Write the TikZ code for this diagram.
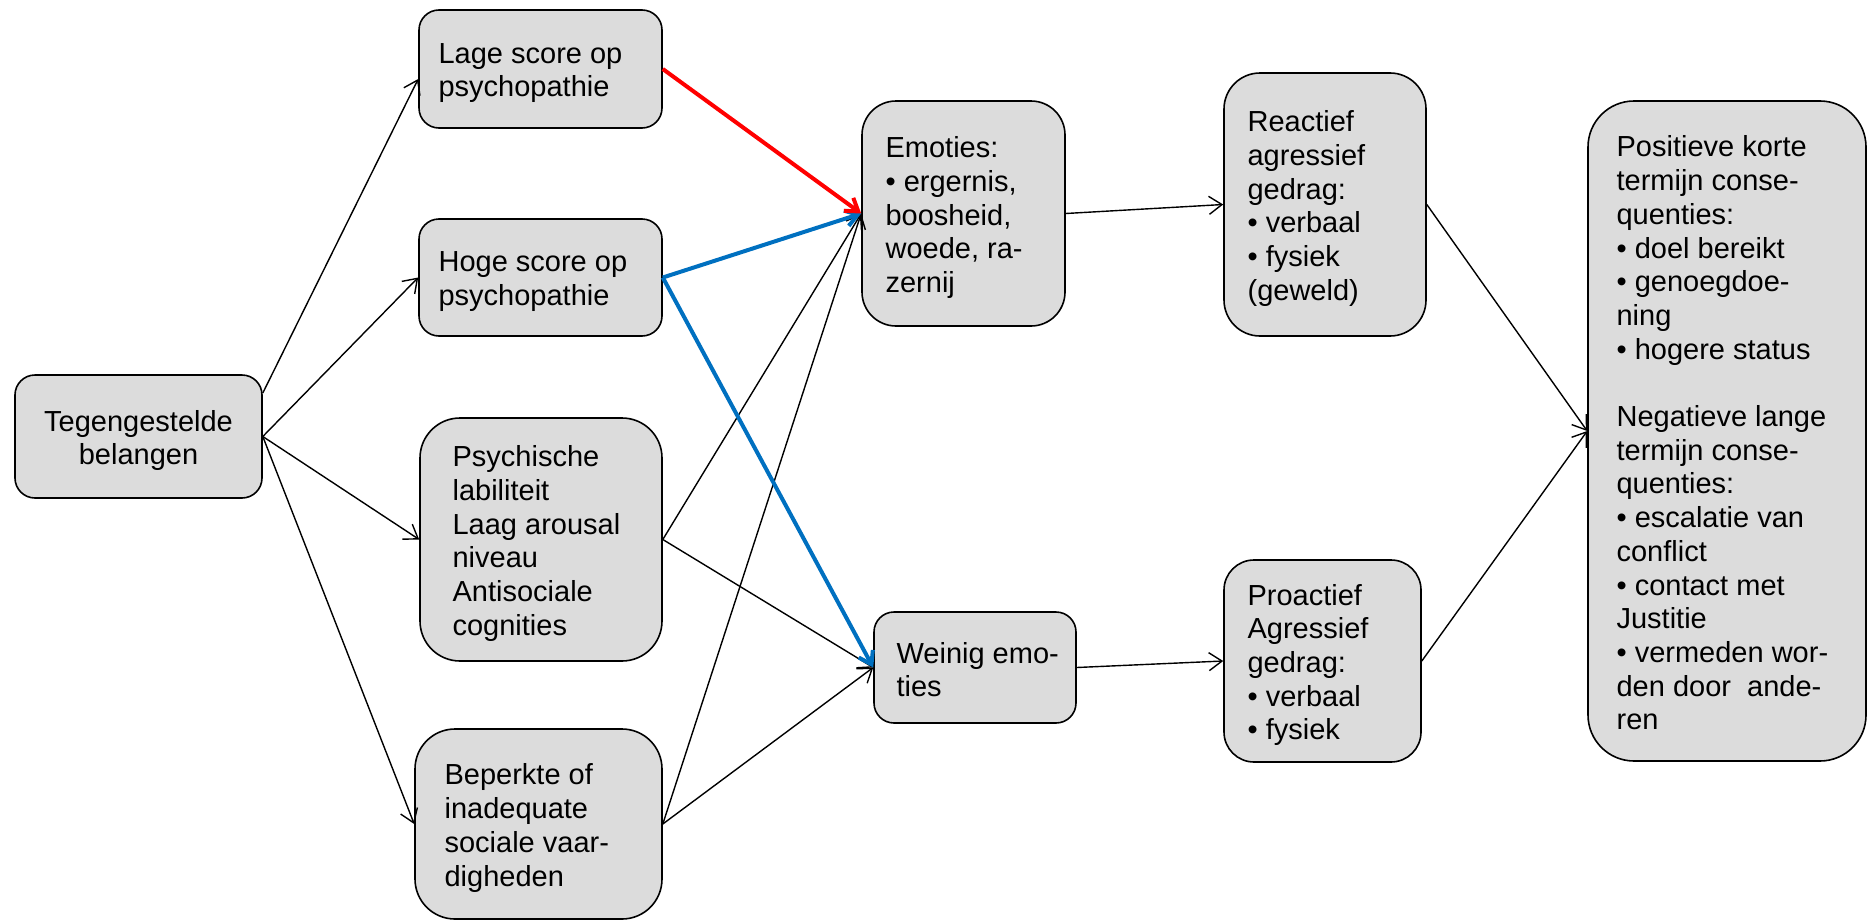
\documentclass[tikz,border=0pt]{standalone}
\usepackage{fontspec}
\setmainfont{Liberation Sans}
\usetikzlibrary{arrows.meta}
\definecolor{boxgray}{RGB}{220,220,220}
\definecolor{arrblue}{RGB}{0,112,192}
\definecolor{arrred}{RGB}{255,0,0}
\begin{document}
\begin{tikzpicture}[x=0.5pt,y=-0.5pt,
  box/.style={draw=black, line width=0.8pt, fill=boxgray, inner sep=0pt},
  txt/.style={inner sep=0pt, align=left, anchor=west, font=\fontsize{14.5pt}{16.85pt}\selectfont},
  arr/.style={draw=black, line width=0.7pt, -{Straight Barb[length=6.5pt,width=9pt]}},
  carr/.style={line width=2pt, -{Straight Barb[length=6pt,width=8pt]}}]
\useasboundingbox (0,0) rectangle (1868,921);
% boxes
\node[box, rounded corners=10pt, minimum width=123.5pt, minimum height=61.5pt] (teg) at (138.5,436.5) {};
\node[box, rounded corners=10pt, minimum width=121.5pt, minimum height=59pt] (lage) at (540.5,69) {};
\node[box, rounded corners=10pt, minimum width=121.5pt, minimum height=58.5pt] (hoge) at (540.5,277.5) {};
\node[box, rounded corners=20pt, minimum width=121pt, minimum height=121.5pt] (psych) at (541,539.5) {};
\node[box, rounded corners=20pt, minimum width=123.5pt, minimum height=95pt] (beperk) at (538.5,824) {};
\node[box, rounded corners=17pt, minimum width=101.5pt, minimum height=112.5pt] (emo) at (963.5,213.5) {};
\node[box, rounded corners=10pt, minimum width=101pt, minimum height=55.5pt] (weinig) at (975,667.5) {};
\node[box, rounded corners=18pt, minimum width=101pt, minimum height=131.5pt] (react) at (1325,204.5) {};
\node[box, rounded corners=15pt, minimum width=98.5pt, minimum height=101pt] (proact) at (1322.5,661) {};
\node[box, rounded corners=23pt, minimum width=139pt, minimum height=330pt] (pos) at (1727,431) {};
% texts
\node[txt, anchor=center, align=center] (tegT) at ([yshift=-2pt]teg.center) {Tegengestelde\\belangen};
\node[txt] (lageT) at ([xshift=10pt,yshift=-2pt]lage.west) {Lage score op\\psychopathie};
\node[txt] (hogeT) at ([xshift=10pt,yshift=-2pt]hoge.west) {Hoge score op\\psychopathie};
\node[txt] (psychT) at ([xshift=16.5pt,yshift=-2pt]psych.west) {Psychische\\labiliteit\\Laag arousal\\niveau\\Antisociale\\cognities};
\node[txt] (beperkT) at ([xshift=15pt,yshift=-2pt]beperk.west) {Beperkte of\\inadequate\\sociale vaar-\\digheden};
\node[txt] (emoT) at ([xshift=12pt,yshift=-2pt]emo.west) {Emoties:\\• ergernis,\\boosheid,\\woede, ra-\\zernij};
\node[txt] (weinigT) at ([xshift=11.5pt,yshift=-1pt]weinig.west) {Weinig emo-\\ties};
\node[txt] (reactT) at ([xshift=12pt,yshift=-2pt]react.west) {Reactief\\agressief\\gedrag:\\• verbaal\\• fysiek\\(geweld)};
\node[txt] (proactT) at ([xshift=12pt,yshift=-2pt]proact.west) {Proactief\\Agressief\\gedrag:\\• verbaal\\• fysiek};
\node[txt] (posT) at ([xshift=14.5pt,yshift=-1pt]pos.west) {Positieve korte\\termijn conse-\\quenties:\\• doel bereikt\\• genoegdoe-\\ning\\• hogere status\\[16.85pt]Negatieve lange\\termijn conse-\\quenties:\\• escalatie van\\conflict\\• contact met\\Justitie\\• vermeden wor-\\den door~~ande-\\ren};
% black connectors
\draw[arr] ([yshift=21.75pt]teg.east) -- ([yshift=-5pt]lage.west);
\draw[arr] (teg.east) -- (hoge.west);
\draw[arr] (teg.east) -- (psych.west);
\draw[arr] (teg.east) -- (beperk.west);
\draw[arr] (psych.east) -- (emo.west);
\draw[arr] (psych.east) -- (weinig.west);
\draw[arr] (beperk.east) -- (emo.west);
\draw[arr] (beperk.east) -- (weinig.west);
\draw[arr] (emo.east) -- (react.west);
\draw[arr] (weinig.east) -- (proact.west);
\draw[arr] (react.east) -- (pos.west);
\draw[arr] (proact.east) -- (pos.west);
% coloured connectors
\draw[carr, arrblue] (hoge.east) -- (weinig.west);
\draw[carr, arrblue] (hoge.east) -- (emo.west);
\draw[carr, arrred] (lage.east) -- (emo.west);
\end{tikzpicture}
\end{document}
